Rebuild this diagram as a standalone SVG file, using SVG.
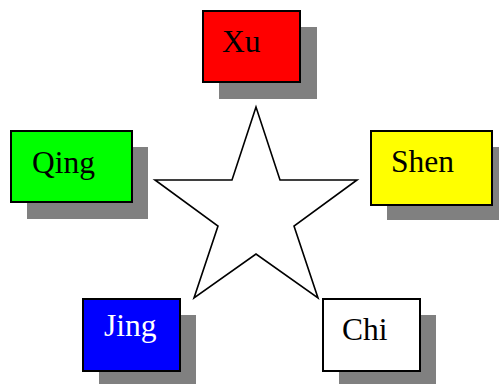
<svg xmlns="http://www.w3.org/2000/svg" width="499" height="385" viewBox="0 0 499 385">
<style>
.sh{fill:#808080;stroke:none}
.bx{stroke:#000;stroke-width:2}
.t{font-family:"Liberation Serif","Times New Roman",serif;font-size:31.5px;fill:#000}
</style>
<rect width="499" height="385" fill="#fff"/>
<g id="star">
<polygon points="256,107 232,180 155,180 218,226 194,298 256,254 318,298 294,226 357,180 280,180" fill="#fff" stroke="#000" stroke-width="1.6" stroke-linejoin="miter"/>
</g>
<g id="xu">
<rect class="sh" x="219" y="27" width="98" height="72"/>
<rect class="bx" x="203" y="11" width="97" height="71" fill="#f00"/>
<text class="t" x="222" y="52">Xu</text>
</g>
<g id="qing">
<rect class="sh" x="27" y="147" width="121" height="72"/>
<rect class="bx" x="11" y="131" width="121" height="71" fill="#0f0"/>
<text class="t" x="32" y="173">Qing</text>
</g>
<g id="shen">
<rect class="sh" x="387" y="147" width="112" height="73"/>
<rect class="bx" x="371" y="131" width="121" height="74" fill="#ff0"/>
<text class="t" x="391" y="172">Shen</text>
</g>
<g id="jing">
<rect class="sh" x="99" y="315" width="97" height="69"/>
<rect class="bx" x="83" y="299" width="97" height="72" fill="#00f"/>
<text class="t" x="104" y="336" style="fill:#fff">Jing</text>
</g>
<g id="chi">
<rect class="sh" x="339" y="315" width="97" height="69"/>
<rect class="bx" x="323" y="299" width="97" height="72" fill="#fff"/>
<text class="t" x="342" y="340">Chi</text>
</g>
</svg>
